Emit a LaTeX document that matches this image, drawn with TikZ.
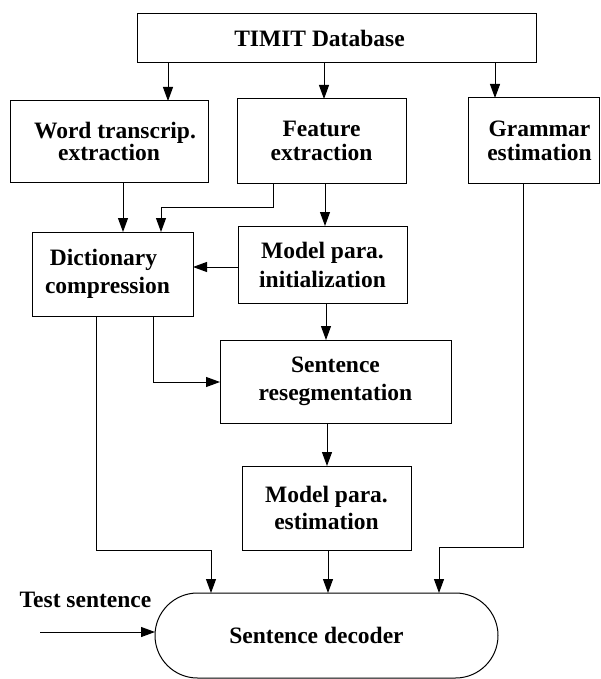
\documentclass[tikz,border=0pt]{standalone}
\usepackage{fontspec}
\setmainfont{Liberation Serif}
\usetikzlibrary{arrows.meta,shapes.misc}
\tikzset{
  box/.style={draw, line width=1pt, inner sep=0pt, outer sep=0pt, align=center,
    font=\fontsize{23.5}{26}\selectfont\bfseries},
  arr/.style={draw, line width=1pt, -{Triangle[length=14pt,width=10pt]}},
  lbl/.style={inner sep=0pt, font=\fontsize{23.5}{26}\selectfont\bfseries}
}
\begin{document}
\begin{tikzpicture}[x=1pt,y=-1pt]
\useasboundingbox (0,0) rectangle (600,679);
\node[box, minimum width=399pt, minimum height=49pt] (timit) at (336.5,38.5) {TIMIT Database\hspace*{34pt}};
\node[box, minimum width=198pt, minimum height=81pt, font=\fontsize{23.5}{21}\selectfont\bfseries] (word) at (109,141.5) {\hspace*{12pt}Word transcrip.\\extraction};
\node[box, minimum width=169pt, minimum height=84pt, font=\fontsize{23.5}{24}\selectfont\bfseries] (feat) at (321.5,141) {Feature\\extraction};
\node[box, minimum width=131pt, minimum height=85pt, font=\fontsize{23.5}{24}\selectfont\bfseries] (gram) at (533.5,140.5) {\hspace*{12pt}Grammar\\\hspace*{12pt}estimation};
\node[box, minimum width=161pt, minimum height=84pt, font=\fontsize{23.5}{28}\selectfont\bfseries] (dict) at (112.5,274) {Dictionary\hspace*{18pt}\\compression\hspace*{10pt}};
\node[box, minimum width=169pt, minimum height=77pt, font=\fontsize{23.5}{29}\selectfont\bfseries] (init) at (322.5,264.5) {Model para.\\initialization};
\node[box, minimum width=231pt, minimum height=83pt, font=\fontsize{23.5}{28}\selectfont\bfseries] (reseg) at (335.5,381.5) {Sentence\\resegmentation};
\node[box, minimum width=169pt, minimum height=84pt, font=\fontsize{23.5}{27}\selectfont\bfseries] (est) at (326.5,508) {Model para.\\estimation};
\node[box, rounded rectangle, minimum width=343pt, minimum height=85pt] (dec) at (326.5,635.5) {Sentence decoder\hspace*{20pt}};
\node[lbl] (test) at (85.5,600) {Test sentence};

% helper coordinates
\coordinate (xa) at (168,0);
\coordinate (xb) at (324,0);
\coordinate (xc) at (495,0);
\coordinate (xwd) at (123,0);
\coordinate (k1) at (273,207);
\coordinate (k2) at (161,207);
\coordinate (xfi) at (325,0);
\coordinate (yid) at (0,267);
\coordinate (xir) at (326,0);
\coordinate (k3) at (153,382);
\coordinate (xre) at (327,0);
\coordinate (k4) at (96,550);
\coordinate (k5) at (211,550);
\coordinate (xed) at (328,0);
\coordinate (k6) at (523,547);
\coordinate (k7) at (439,547);
\coordinate (tin) at (40,632);

\draw[arr] (timit.south -| xa) -- (word.north -| xa);
\draw[arr] (timit.south -| xb) -- (feat.north -| xb);
\draw[arr] (timit.south -| xc) -- (gram.north -| xc);
\draw[arr] (word.south -| xwd) -- (dict.north -| xwd);
\draw[arr] (feat.south -| k1) -- (k1) -- (k2) -- (dict.north -| k2);
\draw[arr] (feat.south -| xfi) -- (init.north -| xfi);
\draw[arr] (init.west |- yid) -- (dict.east |- yid);
\draw[arr] (init.south -| xir) -- (reseg.north -| xir);
\draw[arr] (dict.south -| k3) -- (k3) -- (reseg.west |- k3);
\draw[arr] (reseg.south -| xre) -- (est.north -| xre);
\draw[arr] (dict.south -| k4) -- (k4) -- (k5) -- (dec.north -| k5);
\draw[arr] (est.south -| xed) -- (dec.north -| xed);
\draw[arr] (gram.south -| k6) -- (k6) -- (k7) -- (dec.north -| k7);
\draw[arr] (tin) -- (tin -| dec.west);
\end{tikzpicture}
\end{document}
